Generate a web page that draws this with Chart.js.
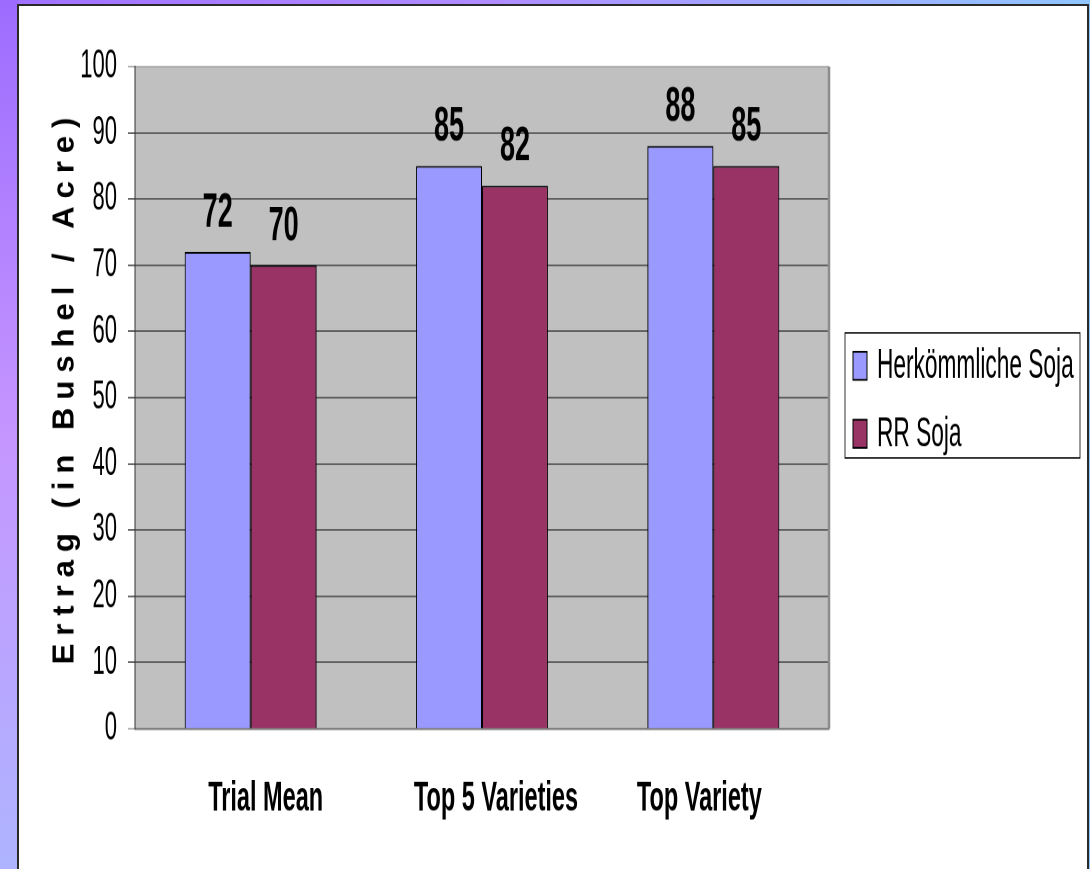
<!DOCTYPE html>
<html>
<head>
<meta charset="utf-8">
<script src="https://cdn.jsdelivr.net/npm/chart.js@4/dist/chart.umd.min.js"></script>
<style>
  html, body { margin: 0; padding: 0; }
  body {
    width: 1090px; height: 869px; overflow: hidden; position: relative;
    background: linear-gradient(to right, #a070ff 0%, #b08cff 45%, #90c6ff 100%);
  }
  #leftStrip {
    position: absolute; left: 0; top: 0; width: 18px; height: 869px;
    background: linear-gradient(to bottom, #9d6cff 0%, #c596ff 50%, #aeb4ff 100%);
  }
  #panel {
    position: absolute; left: 17px; top: 4px; width: 1072px; height: 900px;
    box-sizing: border-box; background: #fff;
    border-left: 2px solid #2a2a2a; border-top: 2px solid #2a2a2a; border-right: 2px solid #2a2a2a;
  }
  /* the chart is drawn squashed and stretched back, like the original slide */
  #wrap {
    position: absolute; left: 0; top: 0; width: 1090px; height: 483px;
    transform: scaleY(1.7992); transform-origin: 0 0;
  }
</style>
</head>
<body>
<div id="leftStrip"></div>
<div id="panel"></div>
<div id="wrap"><canvas id="chart"></canvas></div>
<script>
// Daten
const categories = ['Trial Mean', 'Top 5 Varieties', 'Top Variety'];
const herkoemmlich = [72, 85, 88];
const rrSoja = [70, 82, 85];
const seriesNames = ['Herkömmliche Soja', 'RR Soja'];
const yTicks = [0, 10, 20, 30, 40, 50, 60, 70, 80, 90, 100];
const yTitle = 'Ertrag (in Bushel / Acre)';

const S = 869 / 483;
const FONT = "'Liberation Sans', Arial, sans-serif";
Chart.defaults.font.family = FONT;
Chart.defaults.color = '#000';

// grauer Hintergrund der Zeichenfläche
const plotBg = {
  id: 'plotBg',
  beforeDraw(chart) {
    const { ctx, chartArea: a } = chart;
    ctx.save();
    ctx.fillStyle = '#c0c0c0';
    ctx.fillRect(a.left, a.top, a.right - a.left, a.bottom - a.top);
    ctx.restore();
  },
  afterDatasetsDraw(chart) {
    const { ctx, chartArea: a } = chart;
    ctx.save();
    ctx.strokeStyle = '#8c8c8c';
    ctx.lineWidth = 2.5;
    ctx.beginPath();
    ctx.moveTo(a.right, a.top);
    ctx.lineTo(a.right, a.bottom);
    ctx.stroke();
    ctx.restore();
  }
};

// Kategorien unter der Achse (im Original leicht versetzt)
const catLabels = {
  id: 'catLabels',
  afterDraw(chart) {
    const ctx = chart.ctx;
    const x = chart.scales.x;
    const shift = [15, 14, -14];
    ctx.save();
    ctx.font = 'bold 23.5px ' + FONT;
    ctx.fillStyle = '#000';
    ctx.textAlign = 'center';
    ctx.textBaseline = 'middle';
    chart.data.labels.forEach((lab, i) => {
      ctx.fillText(lab, x.getPixelForValue(i) + shift[i], 799 / S);
    });
    ctx.restore();
  }
};

// Werte über den Balken
const barValues = {
  id: 'barValues',
  afterDatasetsDraw(chart) {
    const ctx = chart.ctx;
    ctx.save();
    ctx.font = 'bold 27px ' + FONT;
    ctx.fillStyle = '#000';
    ctx.textAlign = 'center';
    ctx.textBaseline = 'alphabetic';
    chart.data.datasets.forEach((ds, i) => {
      chart.getDatasetMeta(i).data.forEach((bar, j) => {
        ctx.fillText(String(ds.data[j]), bar.x, bar.y - 14);
      });
    });
    ctx.restore();
  }
};

// Legende mit Rahmen
const legendBox = {
  id: 'legendBox',
  afterDraw(chart) {
    const ctx = chart.ctx;
    const left = 845, top = 185, w = 235, h = 69.5;
    const rows = [203.3, 241.1];
    ctx.save();
    ctx.fillStyle = '#fff';
    ctx.fillRect(left, top, w, h);
    ctx.strokeStyle = '#000';
    ctx.lineWidth = 0.8;
    ctx.strokeRect(left, top, w, h);
    ctx.font = '22.7px ' + FONT;
    ctx.textBaseline = 'middle';
    ctx.textAlign = 'left';
    chart.data.datasets.forEach((ds, i) => {
      const cy = rows[i];
      ctx.fillStyle = ds.backgroundColor;
      ctx.fillRect(853, cy - 7.8, 14, 15.6);
      ctx.strokeStyle = '#000';
      ctx.lineWidth = 1;
      ctx.strokeRect(853, cy - 7.8, 14, 15.6);
      ctx.fillStyle = '#000';
      ctx.fillText(ds.label, 877, cy + 0.5);
    });
    ctx.restore();
  }
};

// gesperrter Achsentitel (ohne Streckung gezeichnet)
const yTitlePlugin = {
  id: 'yTitle',
  afterDraw(chart) {
    const ctx = chart.ctx;
    ctx.save();
    ctx.scale(1, 1 / S);
    ctx.translate(65, 391);
    ctx.rotate(-Math.PI / 2);
    ctx.font = 'bold 31px ' + FONT;
    ctx.letterSpacing = '8px';
    ctx.fillStyle = '#000';
    ctx.textAlign = 'center';
    ctx.textBaseline = 'middle';
    ctx.fillText(yTitle, 4, 0);
    ctx.restore();
  }
};

new Chart(document.getElementById('chart'), {
  type: 'bar',
  data: {
    labels: categories,
    datasets: [
      { label: seriesNames[0], data: herkoemmlich, backgroundColor: '#9999ff', borderColor: '#000', borderWidth: 1 },
      { label: seriesNames[1], data: rrSoja, backgroundColor: '#993366', borderColor: '#000', borderWidth: 1 }
    ]
  },
  options: {
    responsive: true,
    maintainAspectRatio: false,
    animation: false,
    devicePixelRatio: 2,
    layout: { padding: { left: 80, top: 37, right: 261, bottom: 0 } },
    datasets: { bar: { categoryPercentage: 0.57, barPercentage: 1 } },
    plugins: { legend: { display: false }, tooltip: { enabled: false } },
    scales: {
      x: {
        grid: { display: false },
        border: { display: true, color: '#808080', width: 1.2 },
        ticks: { display: false },
        afterFit: s => { s.height = 78; }
      },
      y: {
        min: 0,
        max: 100,
        afterBuildTicks: s => { s.ticks = yTicks.map(v => ({ value: v })); },
        grid: {
          color: c => (c.tick && (c.tick.value === 100 || c.tick.value === 0)) ? '#808080' : '#000',
          lineWidth: 0.6,
          tickLength: 7
        },
        border: { display: true, color: '#333', width: 1 },
        ticks: { font: { size: 22 }, color: '#000', padding: 11 },
        afterFit: s => { s.width = 55; }
      }
    }
  },
  plugins: [plotBg, catLabels, barValues, legendBox, yTitlePlugin]
});
</script>
</body>
</html>
